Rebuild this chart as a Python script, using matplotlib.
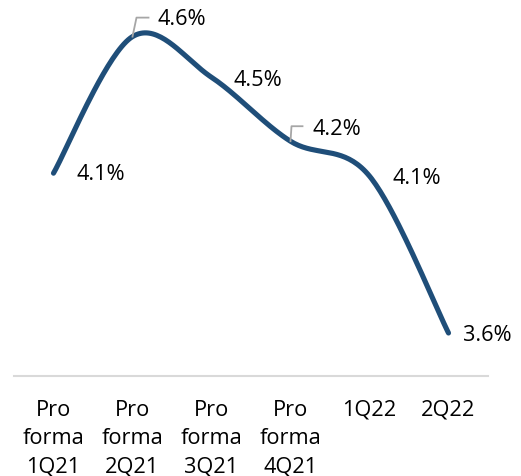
import numpy as np
import matplotlib
matplotlib.use("Agg")
import matplotlib.pyplot as plt
from matplotlib.transforms import offset_copy

categories = ["Pro\nforma\n1Q21", "Pro\nforma\n2Q21", "Pro\nforma\n3Q21",
              "Pro\nforma\n4Q21", "1Q22", "2Q22"]
values = [4.13, 4.60, 4.46, 4.24, 4.12, 3.58]

# label placement in pixels (left edge / vertical centre of text, relative to point)
label_offsets = [(23, -1), (25, 17), (22, -3), (22, 12), (23, -2), (14, -3)]
# bent gray leader lines for the labels that sit above the curve
leaders = {1: [(0, 0), (4, 19), (16, 19)], 3: [(0, 0), (1, 15), (12, 15)]}

line_color = "#1F4E79"
font = "Open Sans"
fsize = 15.7


def smooth(x, y, n=40):
    # excel-style bezier smoothing through the points
    pts = np.column_stack([x, y]).astype(float)
    out = [pts[0]]
    for i in range(len(pts) - 1):
        p0 = pts[max(i - 1, 0)]
        p1 = pts[i]
        p2 = pts[i + 1]
        p3 = pts[min(i + 2, len(pts) - 1)]
        c1 = p1 + (p2 - p0) / 6
        c2 = p2 - (p3 - p1) / 6
        t = np.linspace(0, 1, n)[1:, None]
        seg = ((1 - t) ** 3 * p1 + 3 * (1 - t) ** 2 * t * c1 +
               3 * (1 - t) * t ** 2 * c2 + t ** 3 * p2)
        out.extend(seg)
    out = np.array(out)
    return out[:, 0], out[:, 1]


fig = plt.figure(figsize=(5.21, 4.76), dpi=100)
ax = fig.add_axes([14 / 521, 100 / 476, 474 / 521, 376 / 476])
x = np.arange(len(values))
ax.set_xlim(-0.5, len(values) - 0.5)
ax.set_ylim(3.432, 4.726)

sx, sy = smooth(x, values)
ax.plot(sx, sy, color=line_color, lw=3.7, solid_capstyle="round")

for i, v in enumerate(values):
    dx, dy = label_offsets[i]
    tr = offset_copy(ax.transData, fig=fig, x=dx, y=dy, units="dots")
    ax.text(i, v, f"{v:.1f}%", transform=tr, ha="left", va="center",
            fontsize=fsize, family=font, color="#000000")
    if i in leaders:
        lx = np.array([p[0] for p in leaders[i]])
        ly = np.array([p[1] for p in leaders[i]])
        base = ax.transData.transform((i, v))
        pix = np.column_stack([base[0] + lx, base[1] + ly])
        fig_pts = fig.transFigure.inverted().transform(pix)
        fig.add_artist(plt.Line2D(fig_pts[:, 0], fig_pts[:, 1],
                                  color="#A6A6A6", lw=1.3,
                                  transform=fig.transFigure))

ax.set_xticks(x)
ax.set_xticklabels(categories, fontsize=fsize, family=font, linespacing=1.45)
ax.tick_params(axis="x", length=0, pad=17)
ax.set_yticks([])
for s in ["top", "left", "right"]:
    ax.spines[s].set_visible(False)
ax.spines["bottom"].set_color("#D9D9D9")
ax.spines["bottom"].set_linewidth(1.5)

fig.savefig("out.png", dpi=100)
